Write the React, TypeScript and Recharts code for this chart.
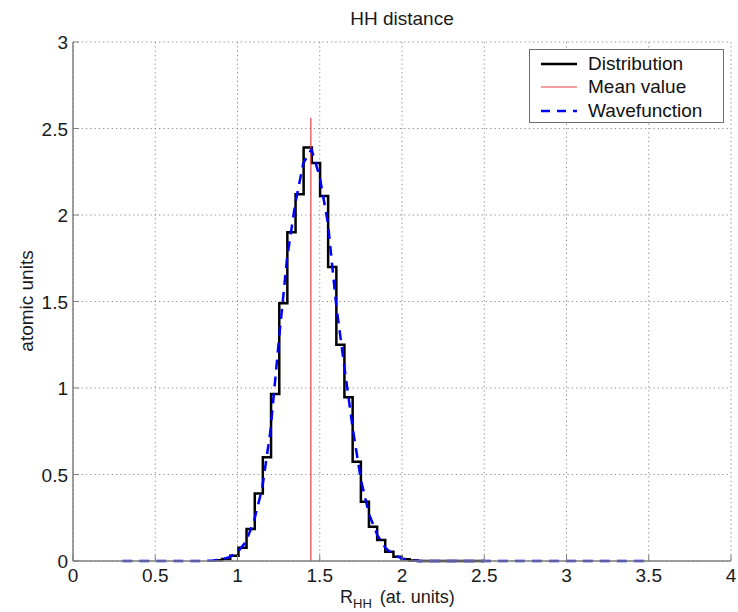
import { ComposedChart, Line, XAxis, YAxis, CartesianGrid, Legend } from 'recharts';

const font = '"Liberation Sans", Arial, Helvetica, sans-serif';

const xTicks = [0, 0.5, 1, 1.5, 2, 2.5, 3, 3.5, 4];
const yTicks = [0, 0.5, 1, 1.5, 2, 2.5, 3];

// histogram bin edges (left edges + final edge) and heights
const binEdges = [
  0.857, 0.906, 0.956, 1.006, 1.055, 1.105, 1.154, 1.204, 1.254, 1.303, 1.353, 1.402, 1.452,
  1.502, 1.551, 1.601, 1.65, 1.7, 1.75, 1.799, 1.849, 1.898, 1.948, 1.998, 2.047, 2.097, 2.5,
];
const binHeights = [
  0.005, 0.012, 0.03, 0.077, 0.185, 0.39, 0.6, 0.965, 1.49, 1.9, 2.12, 2.39, 2.3,
  2.11, 1.7, 1.25, 0.946, 0.574, 0.343, 0.198, 0.121, 0.054, 0.025, 0.01, 0.003, 0,
];

// wavefunction curve
const waveX = [
  0.3, 0.8, 0.85, 0.9, 0.95, 1.0, 1.05, 1.1, 1.15, 1.2, 1.25, 1.3, 1.35, 1.4, 1.45, 1.5,
  1.55, 1.6, 1.65, 1.7, 1.75, 1.8, 1.85, 1.9, 1.95, 2.0, 2.05, 2.1, 2.5, 3.0, 3.5,
];
const waveY = [
  0, 0, 0.003, 0.008, 0.022, 0.05, 0.11, 0.23, 0.42, 0.75, 1.26, 1.74, 2.06, 2.3, 2.38, 2.22,
  1.95, 1.48, 1.12, 0.77, 0.47, 0.27, 0.15, 0.075, 0.035, 0.014, 0.005, 0, 0, 0, 0,
];

const meanValue = 1.446;
const meanTop = 2.56;

const distData = binEdges.map((x, i) => ({
  x,
  y: i < binHeights.length ? binHeights[i] : binHeights[binHeights.length - 1],
}));
const waveData = waveX.map((x, i) => ({ x, y: waveY[i] }));
const meanData = [
  { x: meanValue, y: 0 },
  { x: meanValue, y: meanTop },
];

const legendItems = [
  { name: 'Distribution', color: '#000000', width: 2.5, dash: undefined },
  { name: 'Mean value', color: '#e8403f', width: 1.2, dash: undefined },
  { name: 'Wavefunction', color: '#0000ff', width: 2.5, dash: '9 7' },
];

function XTick(props: any) {
  const { x, y, payload } = props;
  return (
    <g>
      <line x1={x} x2={x} y1={y} y2={y - 6} stroke="#808080" />
      <text x={x} y={y + 21} textAnchor="middle" fontSize={19} fontFamily={font} fill="#1a1a1a">
        {payload.value}
      </text>
    </g>
  );
}

function YTick(props: any) {
  const { x, y, payload } = props;
  return (
    <g>
      <line x1={x} x2={x + 6} y1={y} y2={y} stroke="#808080" />
      <text x={x - 5} y={y + 7} textAnchor="end" fontSize={19} fontFamily={font} fill="#1a1a1a">
        {payload.value}
      </text>
    </g>
  );
}

function LegendBox() {
  return (
    <div
      style={{
        width: 195,
        height: 74,
        boxSizing: 'border-box',
        border: '1px solid #6e6e6e',
        background: '#fff',
        paddingTop: 2,
        fontFamily: font,
        fontSize: 19,
        color: '#111',
      }}
    >
      {legendItems.map((it) => (
        <div key={it.name} style={{ height: 23.6, display: 'flex', alignItems: 'center' }}>
          <svg width={36} height={10} style={{ marginLeft: 11, marginRight: 11 }}>
            <line x1={0} x2={36} y1={5} y2={5} stroke={it.color} strokeWidth={it.width} strokeDasharray={it.dash} />
          </svg>
          <span>{it.name}</span>
        </div>
      ))}
    </div>
  );
}

export default function App() {
  return (
    <div style={{ position: 'absolute', left: 0, top: 0, width: 738, height: 612, background: '#fff' }}>
      <ComposedChart width={738} height={612} margin={{ top: 42, right: 7, bottom: 0, left: 0 }}>
        <CartesianGrid stroke="#909090" strokeDasharray="1.3 3" />
        <XAxis
          dataKey="x"
          type="number"
          domain={[0, 4]}
          ticks={xTicks}
          height={51}
          axisLine={{ stroke: '#808080', strokeWidth: 1.5 }}
          tickLine={false}
          tickSize={0}
          tickMargin={0}
          tick={<XTick />}
        />
        <YAxis
          type="number"
          domain={[0, 3]}
          ticks={yTicks}
          width={73}
          axisLine={{ stroke: '#808080', strokeWidth: 1.5 }}
          tickLine={false}
          tickSize={0}
          tickMargin={0}
          tick={<YTick />}
        />
        <Legend
          layout="vertical"
          align="center"
          verticalAlign="middle"
          content={() => <LegendBox />}
          wrapperStyle={{ left: 529, top: 49, width: 195, height: 74 }}
        />
        <Line
          data={distData}
          dataKey="y"
          type="stepAfter"
          stroke="#000000"
          strokeWidth={2.5}
          dot={false}
          activeDot={false}
          isAnimationActive={false}
        />
        <Line
          data={meanData}
          dataKey="y"
          type="linear"
          stroke="#e8403f"
          strokeWidth={1.2}
          dot={false}
          activeDot={false}
          isAnimationActive={false}
        />
        <Line
          data={waveData}
          dataKey="y"
          type="linear"
          stroke="#0000ff"
          strokeWidth={2.5}
          strokeDasharray="10 7"
          dot={false}
          activeDot={false}
          isAnimationActive={false}
        />
      </ComposedChart>
      <svg
        width={738}
        height={612}
        style={{ position: 'absolute', left: 0, top: 0, pointerEvents: 'none' }}
        fontFamily={font}
        fill="#1a1a1a"
      >
        <text x={402} y={25} textAnchor="middle" fontSize={19}>
          HH distance
        </text>
        <text transform="translate(33,301) rotate(-90)" textAnchor="middle" fontSize={19}>
          atomic units
        </text>
        <text x={340} y={603} fontSize={18}>
          <tspan>R</tspan>
          <tspan fontSize={13} dy={5}>HH</tspan>
          <tspan dy={-5} dx={8}>(at. units)</tspan>
        </text>
      </svg>
    </div>
  );
}
